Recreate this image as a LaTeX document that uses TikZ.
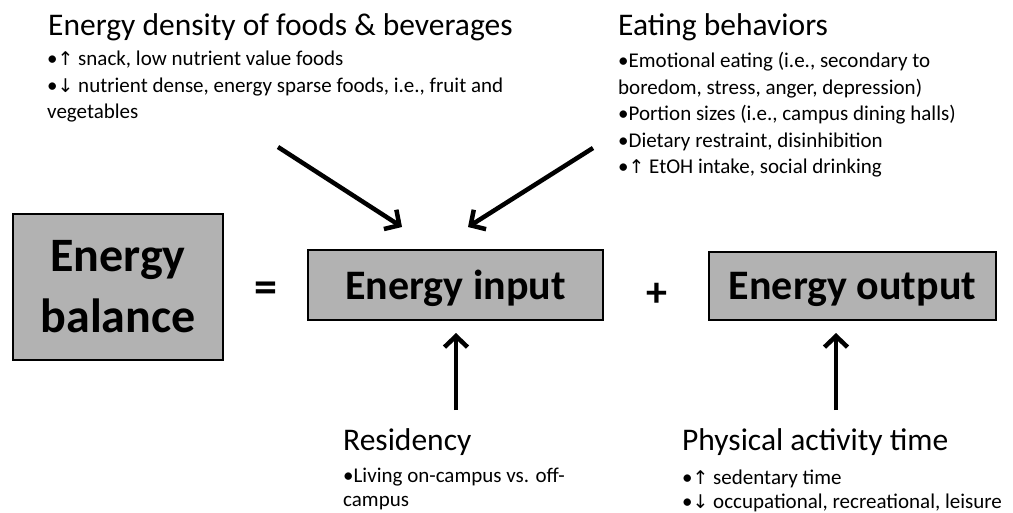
\documentclass[tikz,border=0pt]{standalone}
\usepackage{fontspec}
\setmainfont{Carlito}
\newfontfamily\symfont[Scale=0.9]{DejaVu Sans}
\usepackage{tikz}
\usetikzlibrary{arrows.meta}
\definecolor{boxgray}{gray}{0.70}
\tikzstyle{bigarrow} = [line width=4.5pt,-{Straight Barb[length=11pt,width=23pt]}]
\tikzstyle{eqbox} = [draw=black,line width=2pt,fill=boxgray,inner sep=0pt,font=\bfseries\fontsize{42}{42}\selectfont]
\tikzstyle{heading} = [anchor=base west,inner sep=0pt,font=\fontsize{31.5}{31.5}\selectfont]
\tikzstyle{bullets} = [anchor=north west,inner sep=0pt,align=left,font=\fontsize{21}{26.5}\selectfont]
\newcommand{\upar}{{\symfont ↑}}
\newcommand{\dnar}{{\symfont ↓}}

\begin{document}
\begin{tikzpicture}[x=1pt,y=-1pt]
          \useasboundingbox (0,0) rectangle (1013,512);
          % boxes of the balance
          \node[eqbox,minimum width=210pt,minimum height=146pt,align=center,font=\bfseries\fontsize{48}{61}\selectfont] (balance) at (118,287) {Energy\\balance};
          \node[eqbox,minimum width=295pt,minimum height=70pt,text depth=0pt] (input) at (455.5,285) {Energy input};
          \node[eqbox,minimum width=287pt,minimum height=68pt,text depth=0pt] (output) at (852.5,286) {Energy output};
          \node[font=\bfseries\fontsize{46}{46}\selectfont] (eq) at (266,292) {=};
          \node[font=\bfseries\fontsize{42}{42}\selectfont] (plus) at (657,295) {+};
          % inputs
          \node[heading] (density) at (48,35) {Energy density of foods \& beverages};
          \node[bullets] (densitylist) at (47,51) {•\upar{} snack, low nutrient value foods\\•\dnar{} nutrient dense, energy sparse foods, i.e., fruit and\\vegetables};
          \node[heading] (eating) at (618,35) {Eating behaviors};
          \node[bullets] (eatinglist) at (618,52) {•Emotional eating (i.e., secondary to\\boredom, stress, anger, depression)\\•Portion sizes (i.e., campus dining halls)\\•Dietary restraint, disinhibition\\•\upar{} EtOH intake, social drinking};
          \node[heading] (residency) at (343,450) {Residency};
          \node[bullets,font=\fontsize{21}{24}\selectfont] (residencylist) at (343,468) {•Living on-campus vs. off-\\campus};
          \node[heading] (activity) at (682,450) {Physical activity time};
          \node[bullets,font=\fontsize{21}{24}\selectfont] (activitylist) at (682,470) {•\upar{} sedentary time\\•\dnar{} occupational, recreational, leisure};
          % arrows
          \coordinate (dtail) at (278,147);
          \coordinate (dtip) at (402,227);
          \coordinate (etail) at (593,148);
          \coordinate (etip) at (468,227);
          \coordinate (rtail) at (456,410);
          \coordinate (atail) at (836,410);
          \draw[bigarrow] (dtail) -- (dtip);
          \draw[bigarrow] (etail) -- (etip);
          \draw[bigarrow] (rtail) -- ([yshift=-12pt]input.south -| rtail);
          \draw[bigarrow] (atail) -- ([yshift=-12pt]output.south -| atail);
      \end{tikzpicture}
\end{document}
